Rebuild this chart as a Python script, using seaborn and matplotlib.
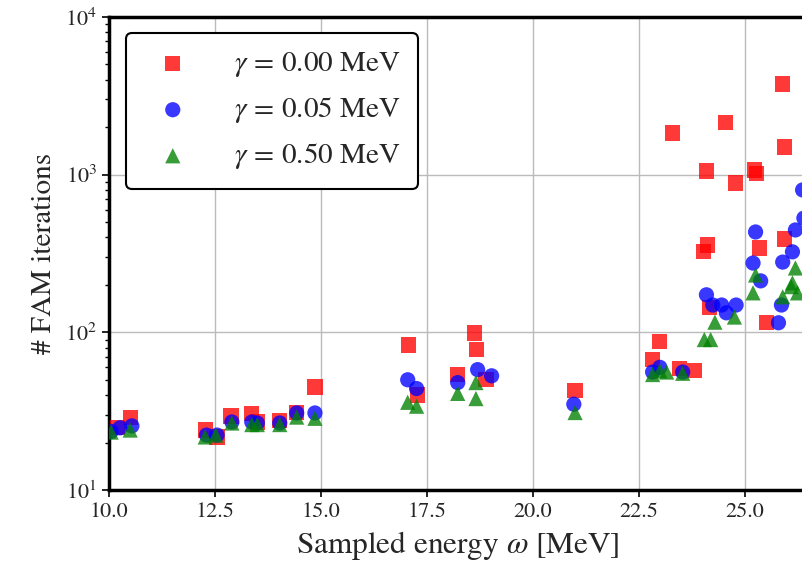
import matplotlib
matplotlib.use("Agg")
import matplotlib.pyplot as plt
import seaborn as sns
import pandas as pd

# ---- data ----
red_x = [10.2, 10.5, 12.27, 12.55, 12.88, 13.37, 13.5, 14.03, 14.43, 14.86,
         17.07, 17.29, 18.23, 18.63, 18.68, 18.9, 21.0,
         22.83, 23.0, 23.3, 23.47, 23.82, 24.03, 24.1, 24.12, 24.17,
         24.55, 24.79, 25.24, 25.28, 25.35, 25.52, 25.9, 25.94, 25.94]
red_y = [24.8, 28.7, 24, 21.7, 29.5, 30.5, 27, 27.5, 31, 45,
         83, 40, 54, 99, 78, 50, 43,
         67, 87, 1835, 59, 57, 324, 1055, 358, 143,
         2130, 885, 1070, 1020, 343, 115, 3760, 1500, 391]

blue_x = [10.05, 10.26, 10.54, 12.3, 12.55, 12.9, 13.37, 13.5, 14.03, 14.43, 14.86,
          17.05, 17.26, 18.23, 18.7, 19.03, 20.97,
          22.83, 23.0, 23.54, 24.1, 24.25, 24.46, 24.57, 24.8,
          25.2, 25.26, 25.38, 25.8, 25.87, 25.9, 26.13, 26.2, 26.37, 26.4]
blue_y = [23.5, 24.8, 25.5, 22.3, 22.3, 27, 27, 26.6, 26.6, 30.8, 30.8,
          50, 44, 48, 58, 53, 35,
          56, 60, 56, 173, 149, 149, 133, 149,
          275, 433, 212, 115, 149, 279, 324, 446, 800, 530]

green_x = [10.05, 10.5, 12.27, 12.52, 12.9, 13.37, 13.5, 14.03, 14.43, 14.86,
           17.05, 17.26, 18.23, 18.66, 18.66, 21.0,
           22.83, 23.0, 23.16, 23.54, 24.05, 24.2, 24.3, 24.76,
           25.2, 25.26, 25.9, 26.1, 26.13, 26.2, 26.25]
green_y = [23.3, 24, 21.7, 22.3, 26.6, 26, 26, 26, 29, 28.5,
           36, 34, 41, 48, 38, 31,
           54, 57, 56, 55, 90, 90, 116, 125,
           178, 231, 168, 195, 206, 256, 178]

labels = [r"$\gamma\,=\,0.00$ MeV", r"$\gamma\,=\,0.05$ MeV", r"$\gamma\,=\,0.50$ MeV"]
colors = ["red", "blue", "green"]
markers = ["s", "o", "^"]

sns.set_style("white")
plt.rcParams["font.family"] = ["STIXGeneral", "DejaVu Serif"]
plt.rcParams["mathtext.fontset"] = "stix"

fig = plt.figure(figsize=(8.02, 5.63), dpi=100)
ax = fig.add_axes([109 / 802, 73 / 563, 697 / 802, 473 / 563])

series = [(red_x, red_y), (blue_x, blue_y), (green_x, green_y)]
for (xs, ys), lab, c, m in zip(series, labels, colors, markers):
    df = pd.DataFrame({"x": xs, "y": ys})
    sns.scatterplot(data=df, x="x", y="y", ax=ax, color=c, marker=m,
                    s=120, alpha=0.78, edgecolor="none", label=lab, zorder=3)

ax.set_yscale("log")
ax.set_ylim(10, 1e4)
ax.set_xlim(10, 26.45)
ax.set_xticks([10.0, 12.5, 15.0, 17.5, 20.0, 22.5, 25.0])
ax.set_xticklabels(["10.0", "12.5", "15.0", "17.5", "20.0", "22.5", "25.0"])
ax.grid(True, which="major", color="#bbbbbb", linewidth=1.0, zorder=0)
ax.set_axisbelow(True)

for sp in ax.spines.values():
    sp.set_visible(True)
    sp.set_color("black")
    sp.set_linewidth(2.5)

ax.tick_params(axis="both", which="major", labelsize=16, direction="out",
               length=5, width=1.2, color="black", left=True, bottom=True)
ax.tick_params(axis="y", which="minor", direction="out", length=3, width=1.0,
               color="black", left=True)

ax.set_xlabel(r"Sampled energy $\omega$ [MeV]", fontsize=22.5, labelpad=5)
ax.set_ylabel("# FAM iterations", fontsize=21, labelpad=6)

leg = ax.legend(loc="upper left", fontsize=21, frameon=True, fancybox=True,
                edgecolor="black", framealpha=1.0, borderpad=0.6,
                handletextpad=1.1, labelspacing=0.55, markerscale=1.0,
                borderaxespad=0.3, bbox_to_anchor=(0.012, 0.985))
leg.get_frame().set_linewidth(1.5)

fig.savefig("out.png", dpi=100)
